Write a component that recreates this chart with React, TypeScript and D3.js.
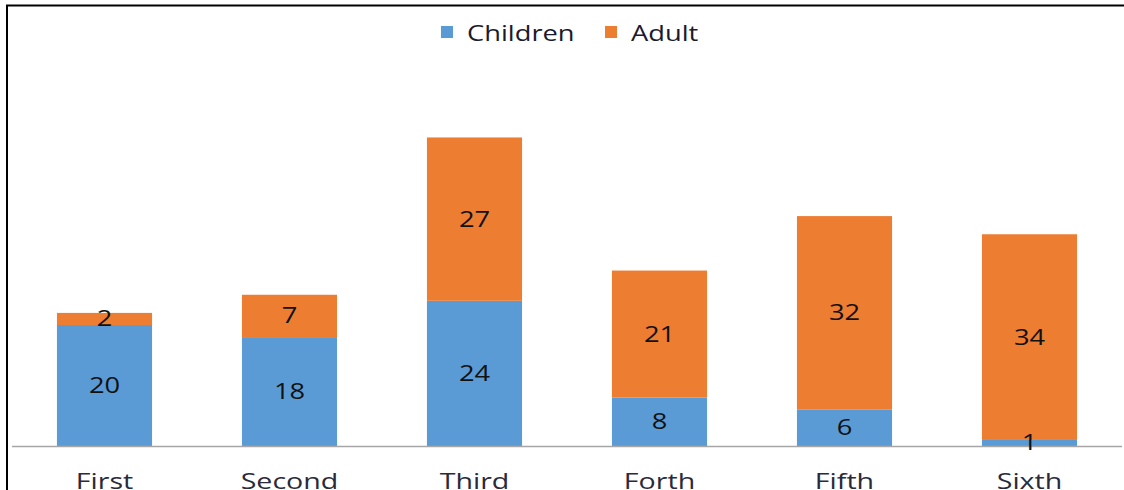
import React from "react";
import * as d3 from "d3";

const categories = ["First", "Second", "Third", "Forth", "Fifth", "Sixth"];
const children = [20, 18, 24, 8, 6, 1];
const adult = [2, 7, 27, 21, 32, 34];
const seriesNames = ["Children", "Adult"];
const seriesColors = ["#5B9BD5", "#ED7D31"];

const W = 1124;
const H = 490;
const FONT = "'Open Sans', 'DejaVu Sans', sans-serif";
const SX = 1.3;

function SText(props: { x: number; y: number; size: number; fill: string; anchor: string; children: any; weight?: number }) {
  return (
    <text
      transform={`translate(${props.x},${props.y}) scale(${SX},1)`}
      fontSize={props.size}
      fill={props.fill}
      textAnchor={props.anchor}
      fontWeight={props.weight ?? 400}
    >
      {props.children}
    </text>
  );
}

export default function App() {
  const x = d3
    .scaleBand<string>()
    .domain(categories)
    .range([12, 1122])
    .paddingInner(0.486)
    .paddingOuter(0.243);
  const y = d3.scaleLinear().domain([0, 60]).range([446, 83]);

  const rows = categories.map((c, i) => ({ cat: c, Children: children[i], Adult: adult[i] }));
  const stacked = d3.stack<any>().keys(seriesNames)(rows);

  return (
    <svg
      width={W}
      height={H}
      style={{ position: "absolute", left: 0, top: 0, background: "#fff" }}
      fontFamily={FONT}
    >
      <rect x={0} y={0} width={W} height={H} fill="#fff" />
      {/* frame */}
      <line x1={6} x2={W} y1={5.5} y2={5.5} stroke="#000" strokeWidth={2} />
      <line x1={7} x2={7} y1={5} y2={H} stroke="#000" strokeWidth={2} />

      {/* legend */}
      <rect x={441} y={26} width={12} height={12} fill={seriesColors[0]} />
      <SText x={467} y={41} size={21} fill="#1a1a2e" anchor="start">{seriesNames[0]}</SText>
      <rect x={605} y={26} width={12} height={12} fill={seriesColors[1]} />
      <SText x={631} y={41} size={21} fill="#1a1a2e" anchor="start">{seriesNames[1]}</SText>

      {/* bars */}
      {stacked.map((s, si) => (
        <g key={s.key}>
          {s.map((d, i) => (
            <rect
              key={i}
              x={x(categories[i])}
              y={y(d[1])}
              width={x.bandwidth()}
              height={y(d[0]) - y(d[1])}
              fill={seriesColors[si]}
            />
          ))}
        </g>
      ))}

      {/* axis line */}
      <line x1={12} x2={1122} y1={446.5} y2={446.5} stroke="#A6A6A6" strokeWidth={1.5} />

      {/* data labels */}
      {stacked.map((s) => (
        <g key={"l" + s.key}>
          {s.map((d, i) => (
            <SText
              key={i}
              x={(x(categories[i]) as number) + x.bandwidth() / 2}
              y={(y(d[0]) + y(d[1])) / 2 + 7.5}
              size={21}
              fill="#111"
              anchor="middle"
            >
              {d[1] - d[0]}
            </SText>
          ))}
        </g>
      ))}

      {/* category labels */}
      {categories.map((c) => (
        <SText key={c} x={(x(c) as number) + x.bandwidth() / 2} y={489} size={22} fill="#2a2a3a" anchor="middle">
          {c}
        </SText>
      ))}
    </svg>
  );
}
